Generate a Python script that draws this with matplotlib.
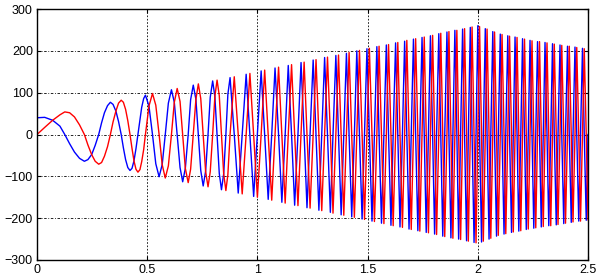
import numpy as np
import matplotlib
matplotlib.use('Agg')
import matplotlib.pyplot as plt

#=================================================
#   DONNEES (points tous les quarts de periode,
#   plus serres au debut ou la frequence est basse)
#=================================================
# temps en ms
t_ms = [0, 35, 71, 104, 126, 148, 170, 193, 215, 231, 248, 264, 280, 293, 306, 320,
        333, 345, 358, 370, 382, 392, 402, 412, 422, 431, 440, 449, 458, 467, 475, 484,
        492, 508, 524, 539, 554, 568, 582, 596, 610, 623, 636, 649, 661, 673, 686, 697,
        709, 721, 732, 743, 754, 765, 776, 786, 797, 807, 817, 827, 837, 847, 857, 866,
        876, 895, 913, 931, 949, 966, 983, 1000, 1017, 1033, 1049, 1065, 1080, 1096, 1111, 1126,
        1140, 1155, 1169, 1184, 1198, 1212, 1225, 1239, 1253, 1266, 1279, 1292, 1305, 1318, 1331, 1343,
        1356, 1368, 1380, 1392, 1404, 1416, 1428, 1440, 1451, 1463, 1475, 1486, 1497, 1508, 1520, 1531,
        1542, 1552, 1563, 1574, 1585, 1595, 1606, 1616, 1627, 1637, 1647, 1658, 1668, 1678, 1688, 1698,
        1708, 1718, 1728, 1737, 1747, 1757, 1766, 1776, 1785, 1795, 1804, 1813, 1823, 1832, 1841, 1850,
        1860, 1869, 1878, 1887, 1896, 1905, 1913, 1922, 1931, 1940, 1949, 1957, 1966, 1974, 1983, 1992,
        2000, 2008, 2017, 2025, 2034, 2042, 2051, 2059, 2068, 2076, 2085, 2093, 2102, 2110, 2119, 2127,
        2136, 2144, 2153, 2161, 2169, 2178, 2186, 2195, 2203, 2212, 2220, 2229, 2237, 2246, 2254, 2263,
        2271, 2280, 2288, 2297, 2305, 2314, 2322, 2331, 2339, 2347, 2356, 2364, 2373, 2381, 2390, 2398,
        2407, 2415, 2424, 2432, 2441, 2449, 2458, 2466, 2475, 2483, 2492, 2500]

# courbe rouge
y_rouge = [0, 17, 34, 47, 54, 52, 42, 23, 0, -25, -48, -64, -71, -67, -52, -29,
           0, 30, 56, 75, 82, 77, 60, 33, 0, -33, -63, -83, -90, -84, -65, -36,
           0, 68, 98, 70, 0, -72, -104, -75, 0, 77, 110, 79, 0, -81, -115, -83,
           0, 84, 121, 86, 0, -88, -125, -89, 0, 91, 130, 93, 0, -94, -134, -96,
           0, 138, 0, -142, 0, 146, 0, -150, 0, 154, 0, -157, 0, 161, 0, -164,
           0, 167, 0, -170, 0, 173, 0, -176, 0, 179, 0, -182, 0, 185, 0, -188,
           0, 190, 0, -193, 0, 196, 0, -198, 0, 201, 0, -203, 0, 206, 0, -208,
           0, 211, 0, -213, 0, 215, 0, -218, 0, 220, 0, -222, 0, 225, 0, -227,
           0, 229, 0, -231, 0, 233, 0, -235, 0, 237, 0, -239, 0, 242, 0, -244,
           0, 246, 0, -248, 0, 249, 0, -251, 0, 253, 0, -255, 0, 257, 0, -259,
           0, 258, 0, -255, 0, 252, 0, -248, 0, 245, 0, -241, 0, 239, 0, -237,
           0, 235, 0, -233, 0, 232, 0, -230, 0, 228, 0, -226, 0, 224, 0, -223,
           0, 222, 0, -220, 0, 219, 0, -218, 0, 216, 0, -215, 0, 213, 0, -212,
           0, 211, 0, -209, 0, 208, 0, -207, 0, 205, 0, -204]

# courbe bleue
y_bleu = [40, 41, 34, 20, 0, -22, -42, -57, -64, -60, -48, -26, 0, 28, 52, 69,
          77, 72, 56, 31, 0, -32, -60, -79, -86, -81, -63, -34, 0, 35, 65, 86,
          94, 68, 0, -70, -101, -72, 0, 75, 107, 77, 0, -79, -113, -81, 0, 83,
          118, 84, 0, -86, -123, -88, 0, 89, 128, 91, 0, -93, -132, -94, 0, 96,
          136, 0, -140, 0, 144, 0, -148, 0, 152, 0, -155, 0, 159, 0, -162, 0,
          165, 0, -169, 0, 172, 0, -175, 0, 178, 0, -181, 0, 184, 0, -186, 0,
          189, 0, -192, 0, 194, 0, -197, 0, 200, 0, -202, 0, 205, 0, -207, 0,
          210, 0, -212, 0, 214, 0, -217, 0, 219, 0, -221, 0, 223, 0, -226, 0,
          228, 0, -230, 0, 232, 0, -234, 0, 236, 0, -238, 0, 241, 0, -243, 0,
          245, 0, -247, 0, 249, 0, -250, 0, 252, 0, -254, 0, 256, 0, -258, 0,
          260, 0, -257, 0, 253, 0, -250, 0, 246, 0, -243, 0, 240, 0, -238, 0,
          236, 0, -234, 0, 233, 0, -231, 0, 229, 0, -227, 0, 225, 0, -224, 0,
          222, 0, -221, 0, 220, 0, -218, 0, 217, 0, -216, 0, 214, 0, -213, 0,
          211, 0, -210, 0, 209, 0, -207, 0, 206, 0, -205, 0]

x_ticks = [0, 0.5, 1, 1.5, 2, 2.5]
x_labels = ['0', '0.5', '1', '1.5', '2', '2.5']
y_ticks = [-300, -200, -100, 0, 100, 200, 300]

#=================================================
#   TRACE
#=================================================
t = np.array(t_ms) / 1000.0

plt.rcParams['font.family'] = ['Liberation Sans', 'DejaVu Sans']
fig = plt.figure(figsize=(6.02, 2.79), dpi=100)
ax = fig.add_axes([37 / 602, 19 / 279, 551 / 602, 251 / 279])
ax.plot(t, y_bleu, color='b', lw=1.0)
ax.plot(t, y_rouge, color='r', lw=1.0)

# MISE EN FORME
ax.set_xlim(0, 2.5)
ax.set_ylim(-300, 300)
ax.set_xticks(x_ticks)
ax.set_xticklabels(x_labels)
ax.set_yticks(y_ticks)
ax.xaxis.grid(True, color='k', ls=(0, (2, 2)), lw=0.6)
ax.yaxis.grid(True, color='k', ls=(0, (3, 2, 1, 2)), lw=0.6)
ax.tick_params(direction='in', top=True, right=True, length=3, labelsize=9, pad=3)
for s in ax.spines.values():
    s.set_linewidth(1.0)

fig.savefig('out.png', dpi=100)
